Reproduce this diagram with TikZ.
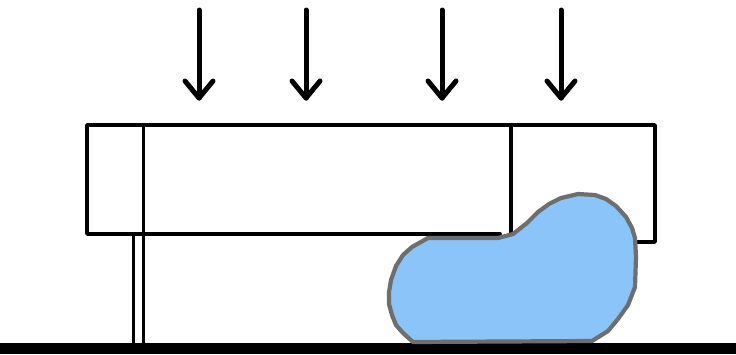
\documentclass[tikz,border=0pt]{standalone}
\begin{document}
\begin{tikzpicture}[x=1pt,y=-1pt,
  frameline/.style={line width=3.8pt,black,line cap=round,line join=round},
  pressarrow/.style={line width=5pt,black,line cap=round,line join=round}]
\useasboundingbox[fill=white] (0,0) rectangle (736,354);
% ground
\fill[black] (0,343) rectangle (736,354);
% legs
\draw[frameline] (133.5,234) -- (133.5,343);
\draw[frameline] (143.5,234) -- (143.5,343);
% plate
\draw[frameline] (500,234) -- (87,234) -- (87,125) -- (655,125) -- (655,242) -- (630,242);
\draw[frameline] (143.5,125) -- (143.5,234);
\draw[frameline] (511,125) -- (511,236);
% arrows
\foreach \x in {199,306,442,561}{
  \draw[pressarrow] (\x,10) -- (\x,98);
  \draw[pressarrow] (\x-14,81) -- (\x,98) -- (\x+14,81);
}
% blob
\draw[line width=4.2pt,draw=black!57,fill={rgb,255:red,138;green,196;blue,248},line join=round]
 (413,342) -- (403,333) -- (396,325) -- (392,315) -- (389,304) -- (389,292) -- (391,280) -- (396,266) -- (403,255) -- (412,247) -- (428,238)
 -- (498,238) -- (513,234) -- (527,223) -- (538,212) -- (549,204) -- (561,198) -- (578,194) -- (595,195) -- (606,199) -- (616,206) -- (626,217) -- (632,228) -- (635,238)
 -- (636,257) -- (635,287) -- (628,305) -- (618,319) -- (608,331) -- (592,341) -- cycle;
\end{tikzpicture}
\end{document}
